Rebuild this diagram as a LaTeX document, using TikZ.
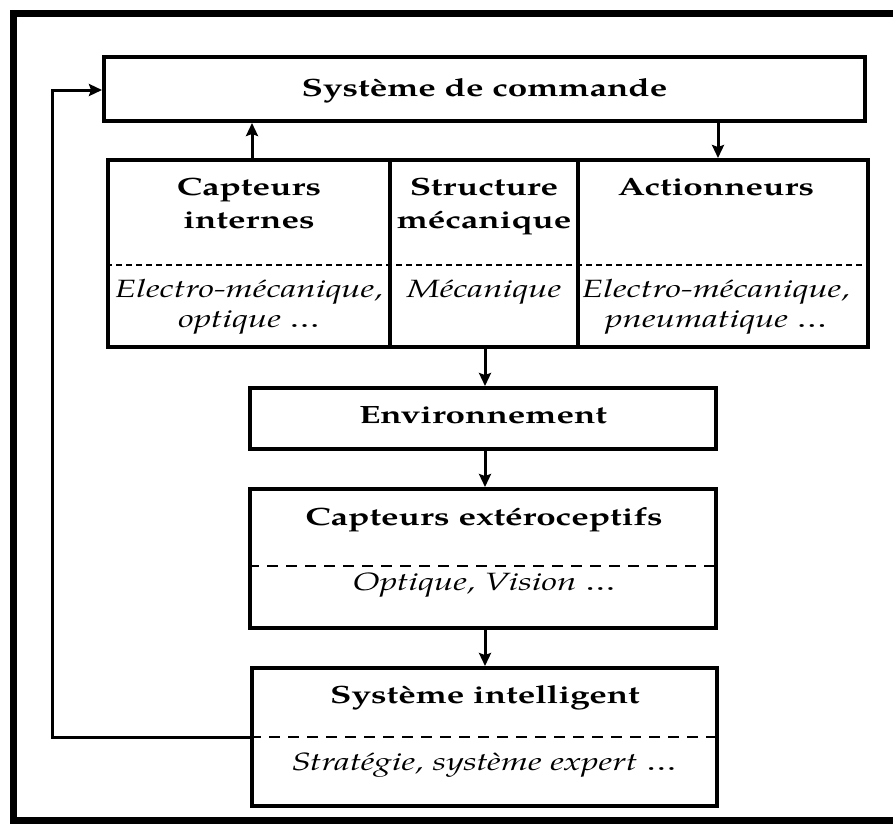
\documentclass[tikz,border=0pt]{standalone}
\usepackage{fontspec}
\setmainfont{texgyrepagella}[Extension=.otf, UprightFont=*-regular, BoldFont=*-bold, ItalicFont=*-italic, BoldItalicFont=*-bolditalic, FakeStretch=1.4]
\usetikzlibrary{arrows.meta}
\begin{document}
\begin{tikzpicture}[x=1pt,y=-1pt,
  box/.style={draw, line width=4pt, inner sep=0pt},
  ttl/.style={font=\fontsize{25}{30}\selectfont\bfseries, anchor=base, inner sep=0pt},
  sub/.style={font=\fontsize{25}{30}\selectfont\itshape, anchor=base, inner sep=0pt},
  arr/.style={line width=3pt, -{Stealth[length=13pt,width=12pt,inset=2pt]}},
  dshA/.style={line width=2pt, dash pattern=on 6pt off 4pt},
  dshB/.style={line width=2pt, dash pattern=on 11pt off 8pt},
  frame/.style={line width=7pt}
]
\useasboundingbox (0,0) rectangle (893,823);
% outer frame (right side open)
\draw[frame] (900,13.5) -- (13.5,13.5) -- (13.5,820) -- (900,820);

% boxes
\node[box, minimum width=761pt, minimum height=64pt] (top) at (484.5,89) {};
\node[box, minimum width=760pt, minimum height=187pt] (row) at (488,253.5) {};
\node[box, minimum width=466pt, minimum height=61pt] (env) at (483,418.5) {};
\node[box, minimum width=466pt, minimum height=139pt] (ext) at (483,558.5) {};
\node[box, minimum width=465pt, minimum height=138pt] (int) at (484.5,737) {};

% row dividers and dashed separators
\coordinate (d1) at (390,0);
\coordinate (d2) at (578,0);
\coordinate (rowdash) at (0,265);
\coordinate (extdash) at (0,566);
\coordinate (intdash) at (0,737);
\draw[line width=4pt] (row.north -| d1) -- (row.south -| d1);
\draw[line width=4pt] (row.north -| d2) -- (row.south -| d2);
\draw[dshA] (row.west |- rowdash) -- (row.east |- rowdash);
\draw[dshB] (ext.west |- extdash) -- (ext.east |- extdash);
\draw[dshB] (int.west |- intdash) -- (int.east |- intdash);

% texts
\node[ttl] (t0) at (484.5,96) {Système de commande};
\node[ttl] (t1a) at (249,195) {Capteurs};
\node[ttl] (t1b) at (249,228) {internes};
\node[ttl] (t2a) at (484,195) {Structure};
\node[ttl] (t2b) at (484,228) {mécanique};
\node[ttl] (t3a) at (716,195) {Actionneurs};
\node[sub] (s1a) at (249,297) {Electro-mécanique,};
\node[sub] (s1b) at (249,327) {optique \ldots};
\node[sub] (s2a) at (484,297) {Mécanique};
\node[sub] (s3a) at (716,297) {Electro-mécanique,};
\node[sub] (s3b) at (716,327) {pneumatique \ldots};
\node[ttl] (t4) at (483,423) {Environnement};
\node[ttl] (t5) at (484,525) {Capteurs extéroceptifs};
\node[sub] (s5) at (484,590) {Optique, Vision \ldots};
\node[ttl] (t6) at (485,703) {Système intelligent};
\node[sub] (s6) at (484,770) {Stratégie, système expert \ldots};

% connectors
\coordinate (cUp) at (252,0);
\coordinate (cDown) at (718,0);
\coordinate (cMid) at (485,0);
\draw[arr] (row.north -| cUp) -- (top.south -| cUp);
\draw[arr] (top.south -| cDown) -- (row.north -| cDown);
\draw[arr] (row.south -| cMid) -- (env.north -| cMid);
\draw[arr] (env.south -| cMid) -- (ext.north -| cMid);
\draw[arr] (ext.south -| cMid) -- (int.north -| cMid);
\coordinate (fbx) at (52,0);
\coordinate (fby) at (0,90);
\draw[arr] (int.west |- intdash) -- (fbx |- intdash) -- (fbx |- fby) -- (top.west |- fby);
\end{tikzpicture}
\end{document}
